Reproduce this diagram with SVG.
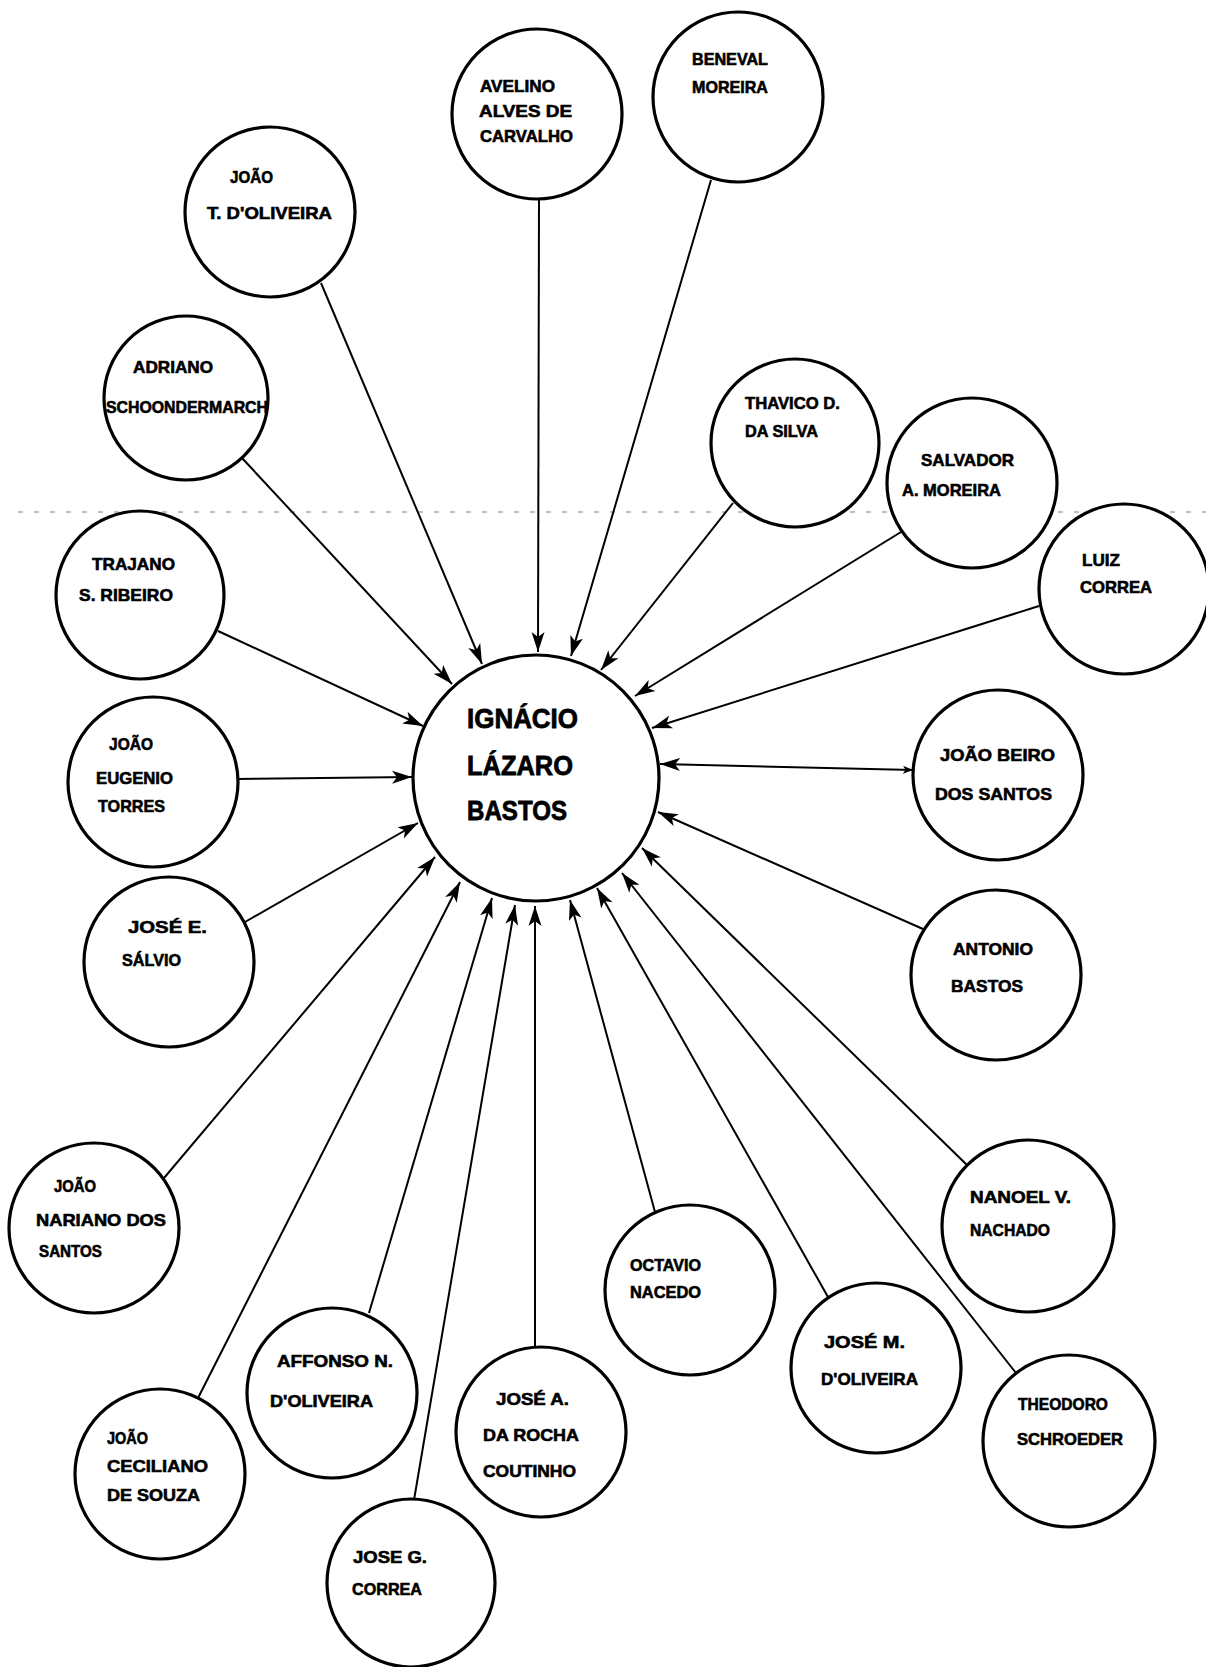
<svg xmlns="http://www.w3.org/2000/svg" width="1206" height="1667" viewBox="0 0 1206 1667">
  <style>
    .node circle { fill: #ffffff; stroke: #000000; stroke-width: 3.2; }
    .node text { font-family: "Liberation Sans", Arial, sans-serif; font-weight: bold; font-size: 17px; fill: #000000; stroke: #000000; stroke-width: 0.6; }
    .hub text { font-size: 28px; stroke-width: 0.8; }
    .conn line { stroke: #000000; stroke-width: 2; fill: none; }
    .fold { stroke: #555555; stroke-width: 1.3; stroke-dasharray: 5 11; fill: none; opacity: 0.5; }
  </style>
  <defs>
    <marker id="arrow" markerUnits="userSpaceOnUse" markerWidth="20" markerHeight="15" viewBox="0 0 20 15" refX="20" refY="7.5" orient="auto">
      <path d="M0,1 L20,7.5 L0,14 L5,7.5 z" fill="#000000"/>
    </marker>
    <marker id="arrow-small" markerUnits="userSpaceOnUse" markerWidth="10" markerHeight="9" viewBox="0 0 10 9" refX="10" refY="4.5" orient="auto-start-reverse">
      <path d="M0,0.5 L10,4.5 L0,8.5 L2.5,4.5 z" fill="#000000"/>
    </marker>
  </defs>

  <rect x="0" y="0" width="1206" height="1667" fill="#ffffff"/>

  <!-- faint dashed rule across the sheet -->
  <line class="fold" x1="18" y1="512" x2="1206" y2="512"/>

  <!-- connectors: every relation points into the central person -->
  <g id="connectors" class="conn">
    <line x1="539" y1="199" x2="538" y2="652" marker-end="url(#arrow)"/>
    <line x1="711" y1="180" x2="571" y2="656" marker-end="url(#arrow)"/>
    <line x1="321" y1="283" x2="482" y2="664" marker-end="url(#arrow)"/>
    <line x1="242" y1="458" x2="452" y2="684" marker-end="url(#arrow)"/>
    <line x1="733" y1="503" x2="601" y2="670" marker-end="url(#arrow)"/>
    <line x1="901" y1="532" x2="635" y2="696" marker-end="url(#arrow)"/>
    <line x1="1039" y1="606" x2="652" y2="728" marker-end="url(#arrow)"/>
    <line x1="218" y1="631" x2="423" y2="726" marker-end="url(#arrow)"/>
    <line x1="237" y1="779" x2="412" y2="777" marker-end="url(#arrow)"/>
    <line x1="245" y1="922" x2="418" y2="823" marker-end="url(#arrow)"/>
    <line x1="913" y1="770" x2="660" y2="764" marker-start="url(#arrow-small)" marker-end="url(#arrow)"/>
    <line x1="923" y1="929" x2="658" y2="812" marker-end="url(#arrow)"/>
    <line x1="164" y1="1178" x2="435" y2="857" marker-end="url(#arrow)"/>
    <line x1="198" y1="1398" x2="460" y2="882" marker-end="url(#arrow)"/>
    <line x1="369" y1="1313" x2="492" y2="898" marker-end="url(#arrow)"/>
    <line x1="414" y1="1500" x2="515" y2="905" marker-end="url(#arrow)"/>
    <line x1="535" y1="1347" x2="535" y2="906" marker-end="url(#arrow)"/>
    <line x1="655" y1="1212" x2="570" y2="900" marker-end="url(#arrow)"/>
    <line x1="828" y1="1297" x2="597" y2="888" marker-end="url(#arrow)"/>
    <line x1="1016" y1="1373" x2="622" y2="873" marker-end="url(#arrow)"/>
    <line x1="967" y1="1165" x2="642" y2="848" marker-end="url(#arrow)"/>
  </g>

  <!-- central person -->
  <g id="ignacio-lazaro-bastos" class="node hub">
    <circle cx="536" cy="778" r="123"/>
    <text x="467" y="728" textLength="111" lengthAdjust="spacingAndGlyphs">IGNÁCIO</text>
    <text x="467" y="775" textLength="106" lengthAdjust="spacingAndGlyphs">LÁZARO</text>
    <text x="467" y="820" textLength="100" lengthAdjust="spacingAndGlyphs">BASTOS</text>
  </g>

  <g id="avelino-alves-de-carvalho" class="node">
    <circle cx="537" cy="114" r="85"/>
    <text x="480" y="92" textLength="75" lengthAdjust="spacingAndGlyphs">AVELINO</text>
    <text x="479" y="117" textLength="93" lengthAdjust="spacingAndGlyphs">ALVES DE</text>
    <text x="480" y="142" textLength="93" lengthAdjust="spacingAndGlyphs">CARVALHO</text>
  </g>

  <g id="beneval-moreira" class="node">
    <circle cx="738" cy="97" r="85"/>
    <text x="692" y="65" textLength="76" lengthAdjust="spacingAndGlyphs">BENEVAL</text>
    <text x="692" y="93" textLength="76" lengthAdjust="spacingAndGlyphs">MOREIRA</text>
  </g>

  <g id="joao-t-doliveira" class="node">
    <circle cx="270" cy="212" r="85"/>
    <text x="230" y="183" textLength="43" lengthAdjust="spacingAndGlyphs">JOÃO</text>
    <text x="207" y="219" textLength="125" lengthAdjust="spacingAndGlyphs">T. D'OLIVEIRA</text>
  </g>

  <g id="adriano-schoondermarch" class="node">
    <circle cx="186" cy="398" r="82"/>
    <text x="133" y="373" textLength="80" lengthAdjust="spacingAndGlyphs">ADRIANO</text>
    <text x="106" y="413" textLength="162" lengthAdjust="spacingAndGlyphs">SCHOONDERMARCH</text>
  </g>

  <g id="thavico-d-da-silva" class="node">
    <circle cx="795" cy="443" r="84"/>
    <text x="745" y="409" textLength="95" lengthAdjust="spacingAndGlyphs">THAVICO D.</text>
    <text x="745" y="437" textLength="73" lengthAdjust="spacingAndGlyphs">DA SILVA</text>
  </g>

  <g id="salvador-a-moreira" class="node">
    <circle cx="972" cy="483" r="85"/>
    <text x="921" y="466" textLength="93" lengthAdjust="spacingAndGlyphs">SALVADOR</text>
    <text x="902" y="496" textLength="99" lengthAdjust="spacingAndGlyphs">A. MOREIRA</text>
  </g>

  <g id="luiz-correa" class="node">
    <circle cx="1124" cy="589" r="85"/>
    <text x="1082" y="566" textLength="38" lengthAdjust="spacingAndGlyphs">LUIZ</text>
    <text x="1080" y="593" textLength="72" lengthAdjust="spacingAndGlyphs">CORREA</text>
  </g>

  <g id="trajano-s-ribeiro" class="node">
    <circle cx="140" cy="595" r="84"/>
    <text x="92" y="570" textLength="83" lengthAdjust="spacingAndGlyphs">TRAJANO</text>
    <text x="79" y="601" textLength="94" lengthAdjust="spacingAndGlyphs">S. RIBEIRO</text>
  </g>

  <g id="joao-eugenio-torres" class="node">
    <circle cx="153" cy="782" r="85"/>
    <text x="109" y="750" textLength="44" lengthAdjust="spacingAndGlyphs">JOÃO</text>
    <text x="96" y="784" textLength="77" lengthAdjust="spacingAndGlyphs">EUGENIO</text>
    <text x="98" y="812" textLength="67" lengthAdjust="spacingAndGlyphs">TORRES</text>
  </g>

  <g id="jose-e-salvio" class="node">
    <circle cx="169" cy="962" r="85"/>
    <text x="128" y="933" textLength="79" lengthAdjust="spacingAndGlyphs">JOSÉ E.</text>
    <text x="122" y="966" textLength="59" lengthAdjust="spacingAndGlyphs">SÁLVIO</text>
  </g>

  <g id="joao-beiro-dos-santos" class="node">
    <circle cx="998" cy="775" r="85"/>
    <text x="940" y="761" textLength="115" lengthAdjust="spacingAndGlyphs">JOÃO BEIRO</text>
    <text x="935" y="800" textLength="117" lengthAdjust="spacingAndGlyphs">DOS SANTOS</text>
  </g>

  <g id="antonio-bastos" class="node">
    <circle cx="996" cy="975" r="85"/>
    <text x="953" y="955" textLength="80" lengthAdjust="spacingAndGlyphs">ANTONIO</text>
    <text x="951" y="992" textLength="72" lengthAdjust="spacingAndGlyphs">BASTOS</text>
  </g>

  <g id="joao-mariano-dos-santos" class="node">
    <circle cx="94" cy="1228" r="85"/>
    <text x="54" y="1192" textLength="42" lengthAdjust="spacingAndGlyphs">JOÃO</text>
    <text x="36" y="1226" textLength="130" lengthAdjust="spacingAndGlyphs">NARIANO DOS</text>
    <text x="39" y="1257" textLength="63" lengthAdjust="spacingAndGlyphs">SANTOS</text>
  </g>

  <g id="manoel-v-machado" class="node">
    <circle cx="1028" cy="1226" r="86"/>
    <text x="970" y="1203" textLength="101" lengthAdjust="spacingAndGlyphs">NANOEL V.</text>
    <text x="970" y="1236" textLength="80" lengthAdjust="spacingAndGlyphs">NACHADO</text>
  </g>

  <g id="octavio-macedo" class="node">
    <circle cx="690" cy="1290" r="85"/>
    <text x="630" y="1271" textLength="71" lengthAdjust="spacingAndGlyphs">OCTAVIO</text>
    <text x="630" y="1298" textLength="71" lengthAdjust="spacingAndGlyphs">NACEDO</text>
  </g>

  <g id="jose-m-doliveira" class="node">
    <circle cx="876" cy="1368" r="85"/>
    <text x="824" y="1348" textLength="81" lengthAdjust="spacingAndGlyphs">JOSÉ M.</text>
    <text x="821" y="1385" textLength="97" lengthAdjust="spacingAndGlyphs">D'OLIVEIRA</text>
  </g>

  <g id="theodoro-schroeder" class="node">
    <circle cx="1069" cy="1441" r="86"/>
    <text x="1018" y="1410" textLength="90" lengthAdjust="spacingAndGlyphs">THEODORO</text>
    <text x="1017" y="1445" textLength="106" lengthAdjust="spacingAndGlyphs">SCHROEDER</text>
  </g>

  <g id="affonso-n-doliveira" class="node">
    <circle cx="332" cy="1393" r="85"/>
    <text x="277" y="1367" textLength="116" lengthAdjust="spacingAndGlyphs">AFFONSO N.</text>
    <text x="270" y="1407" textLength="103" lengthAdjust="spacingAndGlyphs">D'OLIVEIRA</text>
  </g>

  <g id="jose-a-da-rocha-coutinho" class="node">
    <circle cx="541" cy="1432" r="85"/>
    <text x="496" y="1405" textLength="73" lengthAdjust="spacingAndGlyphs">JOSÉ A.</text>
    <text x="483" y="1441" textLength="96" lengthAdjust="spacingAndGlyphs">DA ROCHA</text>
    <text x="483" y="1477" textLength="93" lengthAdjust="spacingAndGlyphs">COUTINHO</text>
  </g>

  <g id="joao-ceciliano-de-souza" class="node">
    <circle cx="160" cy="1474" r="85"/>
    <text x="107" y="1444" textLength="41" lengthAdjust="spacingAndGlyphs">JOÃO</text>
    <text x="107" y="1472" textLength="101" lengthAdjust="spacingAndGlyphs">CECILIANO</text>
    <text x="107" y="1501" textLength="93" lengthAdjust="spacingAndGlyphs">DE SOUZA</text>
  </g>

  <g id="jose-g-correa" class="node">
    <circle cx="411" cy="1583" r="84"/>
    <text x="353" y="1563" textLength="74" lengthAdjust="spacingAndGlyphs">JOSE G.</text>
    <text x="352" y="1595" textLength="70" lengthAdjust="spacingAndGlyphs">CORREA</text>
  </g>
</svg>
